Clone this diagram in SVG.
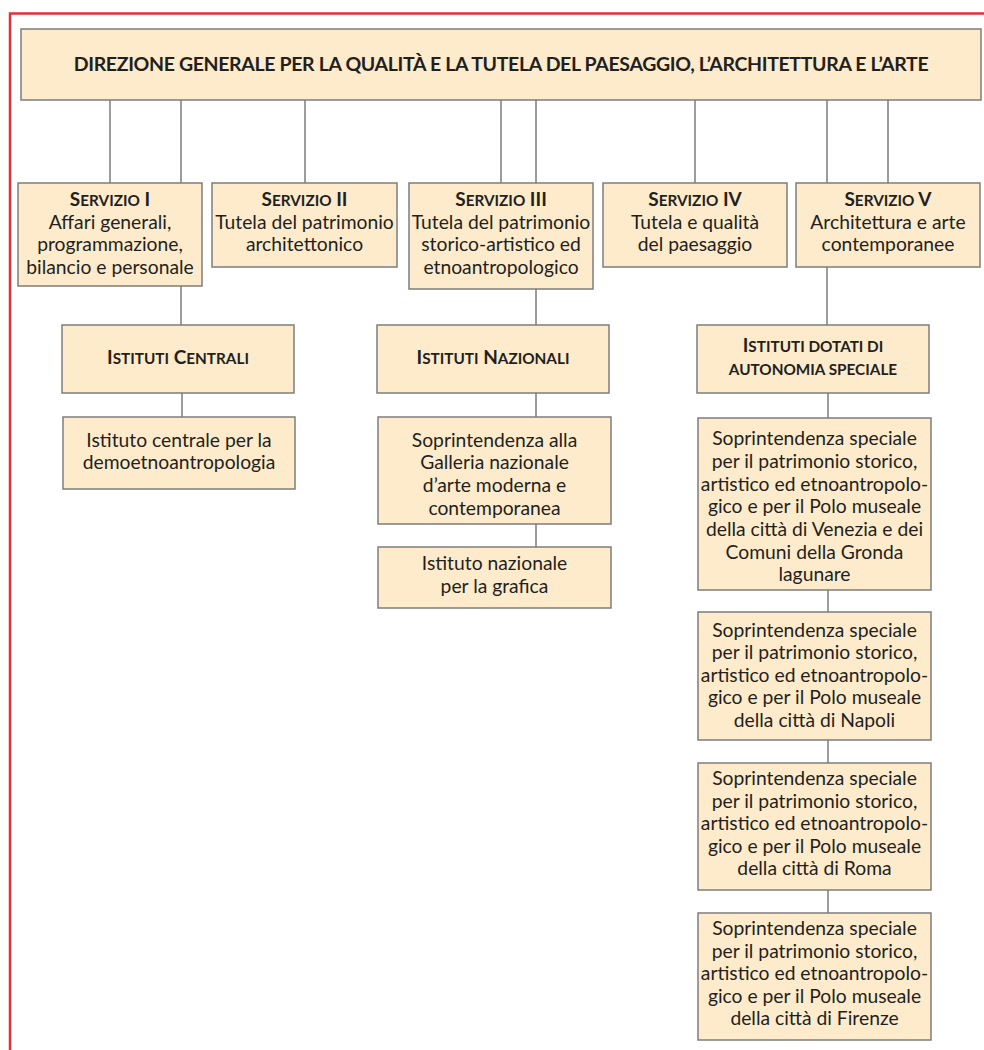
<svg xmlns="http://www.w3.org/2000/svg" width="984" height="1050" viewBox="0 0 984 1050">
<style>
.box{fill:#fdebcc;stroke:#7d7d7d;stroke-width:1.5}
.ln{stroke:#7d7d7d;stroke-width:1.5;fill:none}
.frame{stroke:#e2303a;stroke-width:2.5;fill:none}
text{font-family:Lato,"Noto Sans","Liberation Sans",sans-serif;fill:#231f20;text-anchor:middle}
.t{font-size:19.3px}
.h{font-size:19px;font-weight:bold}
.s{font-size:15.3px}
.title{font-size:19.5px;font-weight:bold;letter-spacing:-0.35px}
</style>
<rect width="984" height="1050" fill="#ffffff"/>
<path class="frame" d="M10 1050 V13.5 H984"/>
<g id="connectors">
<path class="ln" d="M110 100 V183 M181 100 V183 M305 100 V183 M501 100 V183 M536 100 V183 M695 100 V183 M827 100 V183 M888 100 V183"/>
<path class="ln" d="M181 286 V325 M182 393 V417"/>
<path class="ln" d="M536 289 V325 M536 393 V417 M536 524 V547"/>
<path class="ln" d="M827 267 V325 M828 393 V418 M828 590 V612 M828 740 V763 M828 890 V913"/>
</g>
<g id="direzione">
<rect class="box" x="21" y="29" width="960" height="71"/>
<text class="title" x="501" y="71">DIREZIONE GENERALE PER LA QUALITÀ E LA TUTELA DEL PAESAGGIO, L’ARCHITETTURA E L’ARTE</text>
</g>
<g id="servizio1">
<rect class="box" x="18" y="183" width="184" height="103"/>
<text class="h" x="110" y="206">S<tspan class="s">ERVIZIO</tspan> I</text>
<text class="t" x="110" y="229">Affari generali,</text>
<text class="t" x="110" y="251">programmazione,</text>
<text class="t" x="110" y="274">bilancio e personale</text>
</g>
<g id="servizio2">
<rect class="box" x="212" y="183" width="185" height="84"/>
<text class="h" x="304.5" y="206">S<tspan class="s">ERVIZIO</tspan> II</text>
<text class="t" x="304.5" y="229">Tutela del patrimonio</text>
<text class="t" x="304.5" y="251">architettonico</text>
</g>
<g id="servizio3">
<rect class="box" x="409" y="183" width="184" height="106"/>
<text class="h" x="501" y="206">S<tspan class="s">ERVIZIO</tspan> III</text>
<text class="t" x="501" y="229">Tutela del patrimonio</text>
<text class="t" x="501" y="251">storico-artistico ed</text>
<text class="t" x="501" y="274">etnoantropologico</text>
</g>
<g id="servizio4">
<rect class="box" x="603" y="183" width="184" height="84"/>
<text class="h" x="695" y="206">S<tspan class="s">ERVIZIO</tspan> IV</text>
<text class="t" x="695" y="229">Tutela e qualità</text>
<text class="t" x="695" y="251">del paesaggio</text>
</g>
<g id="servizio5">
<rect class="box" x="796" y="183" width="184" height="84"/>
<text class="h" x="888" y="206">S<tspan class="s">ERVIZIO</tspan> V</text>
<text class="t" x="888" y="229">Architettura e arte</text>
<text class="t" x="888" y="251">contemporanee</text>
</g>
<g id="istituti-centrali">
<rect class="box" x="62" y="325" width="232" height="68"/>
<text class="h" x="178" y="364">I<tspan class="s">STITUTI</tspan> C<tspan class="s">ENTRALI</tspan></text>
</g>
<g id="istituto-centrale-demo">
<rect class="box" x="63" y="417" width="232" height="72"/>
<text class="t" x="179" y="447">Istituto centrale per la</text>
<text class="t" x="179" y="469">demoetnoantropologia</text>
</g>
<g id="istituti-nazionali">
<rect class="box" x="377" y="325" width="232" height="68"/>
<text class="h" x="493" y="364">I<tspan class="s">STITUTI</tspan> N<tspan class="s">AZIONALI</tspan></text>
</g>
<g id="galleria">
<rect class="box" x="378" y="417" width="233" height="107"/>
<text class="t" x="494.5" y="447">Soprintendenza alla</text>
<text class="t" x="494.5" y="469">Galleria nazionale</text>
<text class="t" x="494.5" y="492">d’arte moderna e</text>
<text class="t" x="494.5" y="515">contemporanea</text>
</g>
<g id="grafica">
<rect class="box" x="378" y="547" width="233" height="61"/>
<text class="t" x="494.5" y="570">Istituto nazionale</text>
<text class="t" x="494.5" y="593">per la grafica</text>
</g>
<g id="autonomia">
<rect class="box" x="697" y="325" width="232" height="68"/>
<text class="h" x="813" y="352">I<tspan class="s">STITUTI DOTATI DI</tspan></text>
<text class="h s" x="813" y="375">AUTONOMIA SPECIALE</text>
</g>
<g id="venezia">
<rect class="box" x="698" y="418" width="233" height="172"/>
<text class="t" x="814.5" y="445">Soprintendenza speciale</text>
<text class="t" x="814.5" y="468">per il patrimonio storico,</text>
<text class="t" x="814.5" y="490.5">artistico ed etnoantropolo-</text>
<text class="t" x="814.5" y="513">gico e per il Polo museale</text>
<text class="t" x="814.5" y="536">della città di Venezia e dei</text>
<text class="t" x="814.5" y="558.5">Comuni della Gronda</text>
<text class="t" x="814.5" y="581">lagunare</text>
</g>
<g id="napoli">
<rect class="box" x="698" y="612" width="233" height="128"/>
<text class="t" x="814.5" y="636.5">Soprintendenza speciale</text>
<text class="t" x="814.5" y="659">per il patrimonio storico,</text>
<text class="t" x="814.5" y="681.5">artistico ed etnoantropolo-</text>
<text class="t" x="814.5" y="704">gico e per il Polo museale</text>
<text class="t" x="814.5" y="727">della città di Napoli</text>
</g>
<g id="roma">
<rect class="box" x="698" y="763" width="233" height="127"/>
<text class="t" x="814.5" y="785">Soprintendenza speciale</text>
<text class="t" x="814.5" y="807.5">per il patrimonio storico,</text>
<text class="t" x="814.5" y="830">artistico ed etnoantropolo-</text>
<text class="t" x="814.5" y="852.5">gico e per il Polo museale</text>
<text class="t" x="814.5" y="875">della città di Roma</text>
</g>
<g id="firenze">
<rect class="box" x="698" y="913" width="233" height="127"/>
<text class="t" x="814.5" y="935">Soprintendenza speciale</text>
<text class="t" x="814.5" y="957.5">per il patrimonio storico,</text>
<text class="t" x="814.5" y="980">artistico ed etnoantropolo-</text>
<text class="t" x="814.5" y="1002.5">gico e per il Polo museale</text>
<text class="t" x="814.5" y="1025">della città di Firenze</text>
</g>
</svg>
